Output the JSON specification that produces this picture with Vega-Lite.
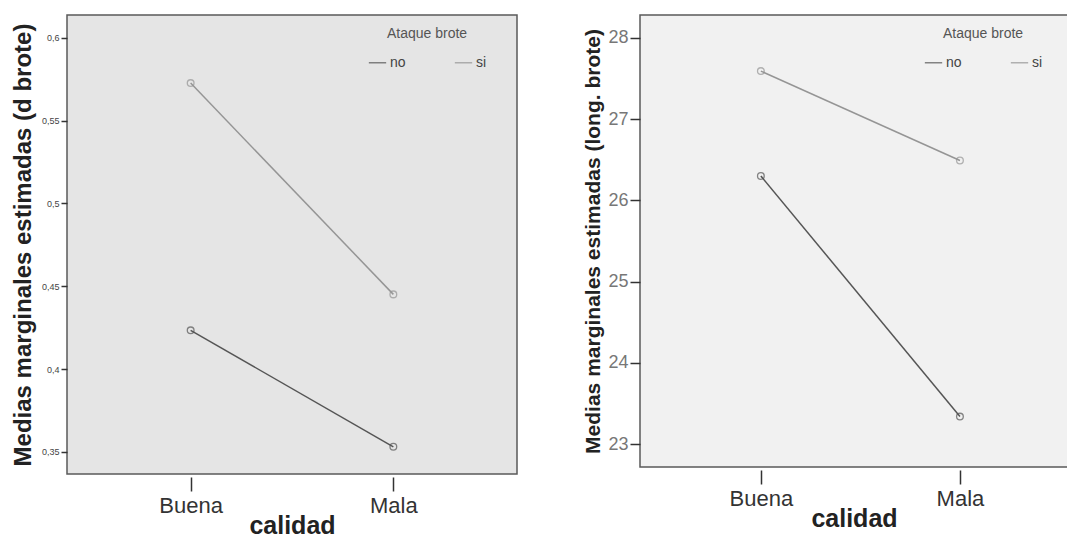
{
  "$schema": "https://vega.github.io/schema/vega-lite/v6.json",
  "padding": {"left": 10, "top": 14, "right": 0, "bottom": 0},
  "background": "white",
  "config": {
    "font": "Liberation Sans",
    "concat": {"spacing": 64},
    "view": {"stroke": "#5a5a5a", "strokeWidth": 1.5},
    "axis": {"grid": false, "domain": false, "tickColor": "#333333", "tickWidth": 1.5},
    "legend": {
      "orient": "none",
      "direction": "horizontal",
      "symbolType": "stroke",
      "symbolSize": 300,
      "symbolStrokeWidth": 1.5,
      "titleFontWeight": "normal",
      "titleColor": "#555555",
      "titleAnchor": "middle",
      "labelColor": "#444444",
      "labelOffset": 3,
      "columnPadding": 45,
      "titlePadding": 12
    }
  },
  "datasets": {
    "dbrote": [
      {"calidad": "Buena", "ataque": "no", "valor": 0.4234},
      {"calidad": "Mala", "ataque": "no", "valor": 0.3531},
      {"calidad": "Buena", "ataque": "si", "valor": 0.5726},
      {"calidad": "Mala", "ataque": "si", "valor": 0.4451}
    ],
    "longbrote": [
      {"calidad": "Buena", "ataque": "no", "valor": 26.30},
      {"calidad": "Mala", "ataque": "no", "valor": 23.34},
      {"calidad": "Buena", "ataque": "si", "valor": 27.59},
      {"calidad": "Mala", "ataque": "si", "valor": 26.49}
    ]
  },
  "resolve": {"scale": {"color": "independent"}, "legend": {"color": "independent"}},
  "hconcat": [
    {
      "width": 450,
      "height": 459,
      "view": {"fill": "#e5e5e5"},
      "data": {"name": "dbrote"},
      "encoding": {
        "x": {
          "field": "calidad", "type": "ordinal",
          "scale": {"type": "point", "padding": 0.61},
          "axis": {"title": "calidad", "labelAngle": 0, "tickSize": 14, "offset": 3, "labelFontSize": 22, "labelColor": "#333333", "labelPadding": 4, "titleFontSize": 25, "titleFontWeight": "bold", "titleColor": "#222222", "titlePadding": -3}
        },
        "y": {
          "field": "valor", "type": "quantitative",
          "scale": {"domain": [0.3367, 0.6137], "nice": false, "zero": false},
          "axis": {"title": "Medias marginales estimadas (d brote)", "values": [0.35, 0.4, 0.45, 0.5, 0.55, 0.6], "labelExpr": "replace(format(datum.value, '.2~f'), '.', ',')", "tickSize": 6, "labelFontSize": 9, "labelColor": "#444444", "labelPadding": 2, "titleFontSize": 24, "titleFontWeight": "bold", "titleColor": "#222222", "titlePadding": 6}
        },
        "color": {
          "field": "ataque", "type": "nominal",
          "scale": {"domain": ["no", "si"], "range": ["#555555", "#959595"]},
          "legend": {"title": "Ataque brote", "titleFontSize": 14, "labelFontSize": 14, "legendX": 301, "legendY": 12}
        }
      },
      "layer": [
        {"mark": {"type": "line", "strokeWidth": 1.5}},
        {"mark": {"type": "point", "filled": false, "size": 45, "strokeWidth": 1.3}}
      ]
    },
    {
      "width": 428,
      "height": 452,
      "view": {"fill": "#f1f1f1"},
      "data": {"name": "longbrote"},
      "encoding": {
        "x": {
          "field": "calidad", "type": "ordinal",
          "scale": {"type": "point", "padding": 0.575, "align": 0.528},
          "axis": {"title": "calidad", "labelAngle": 0, "tickSize": 14, "offset": 3, "labelFontSize": 22, "labelColor": "#333333", "labelPadding": 4, "titleFontSize": 25, "titleFontWeight": "bold", "titleColor": "#222222", "titlePadding": -3}
        },
        "y": {
          "field": "valor", "type": "quantitative",
          "scale": {"domain": [22.72, 28.28], "nice": false, "zero": false},
          "axis": {"title": "Medias marginales estimadas (long. brote)", "values": [23, 24, 25, 26, 27, 28], "format": "d", "tickSize": 10, "labelFontSize": 18, "labelColor": "#777777", "labelPadding": 2, "titleFontSize": 21, "titleFontWeight": "bold", "titleColor": "#222222", "titlePadding": 4}
        },
        "color": {
          "field": "ataque", "type": "nominal",
          "scale": {"domain": ["no", "si"], "range": ["#555555", "#959595"]},
          "legend": {"title": "Ataque brote", "titleFontSize": 14, "labelFontSize": 14, "legendX": 284, "legendY": 12}
        }
      },
      "layer": [
        {"mark": {"type": "line", "strokeWidth": 1.5}},
        {"mark": {"type": "point", "filled": false, "size": 45, "strokeWidth": 1.3}}
      ]
    }
  ]
}
